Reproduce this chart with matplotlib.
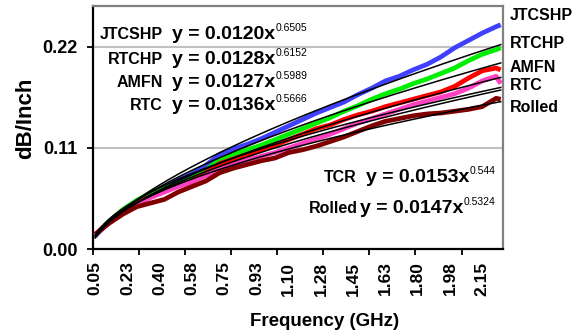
import numpy as np
import matplotlib
matplotlib.use("Agg")
import matplotlib.pyplot as plt

plt.rcParams['font.family'] = ['Liberation Sans', 'DejaVu Sans']

W, H, DPI = 574, 336, 100

# Sample number of each plotted point (89 samples, 0.05-2.25 GHz, 25 MHz apart)
cats = [1, 4, 7, 10, 13, 16, 19, 22, 25, 28, 31, 34, 37, 40, 43, 46, 49, 52,
        55, 58, 61, 64, 67, 70, 73, 76, 79, 82, 85, 88, 89]
n_samples = 89

# Measured loss (dB/inch)
jtcshp = [0.014, 0.030, 0.042, 0.051, 0.058, 0.066, 0.075, 0.082, 0.091, 0.103,
          0.109, 0.114, 0.120, 0.127, 0.134, 0.141, 0.148, 0.154, 0.160, 0.168,
          0.175, 0.183, 0.188, 0.195, 0.201, 0.209, 0.219, 0.227, 0.235, 0.242,
          0.244]
rtchp = [0.015, 0.030, 0.043, 0.053, 0.061, 0.066, 0.071, 0.077, 0.086, 0.097,
         0.103, 0.108, 0.113, 0.119, 0.125, 0.131, 0.137, 0.143, 0.150, 0.156,
         0.163, 0.169, 0.174, 0.180, 0.185, 0.191, 0.197, 0.205, 0.212, 0.217,
         0.219]
amfn = [0.016, 0.029, 0.041, 0.050, 0.057, 0.063, 0.069, 0.074, 0.083, 0.093,
        0.098, 0.103, 0.108, 0.113, 0.119, 0.125, 0.131, 0.135, 0.141, 0.146,
        0.150, 0.155, 0.159, 0.163, 0.167, 0.171, 0.177, 0.186, 0.194, 0.197,
        0.195]
rtc = [0.015, 0.029, 0.040, 0.049, 0.056, 0.062, 0.068, 0.073, 0.080, 0.087,
       0.092, 0.097, 0.101, 0.105, 0.110, 0.115, 0.120, 0.125, 0.131, 0.137,
       0.142, 0.147, 0.152, 0.157, 0.161, 0.165, 0.169, 0.175, 0.183, 0.188,
       0.180]
rolled = [0.016, 0.028, 0.038, 0.046, 0.050, 0.054, 0.062, 0.068, 0.074, 0.083,
          0.088, 0.092, 0.096, 0.099, 0.105, 0.108, 0.112, 0.117, 0.122, 0.128,
          0.134, 0.139, 0.142, 0.145, 0.147, 0.148, 0.150, 0.152, 0.155, 0.164,
          0.163]

series_names = ["JTCSHP", "RTCHP", "AMFN", "RTC", "Rolled"]
series_values = [jtcshp, rtchp, amfn, rtc, rolled]
series_colors = ["#4040ff", "#00ee00", "#ff0000", "#ff40c0", "#800000"]

# Power-law trendlines y = a * x^b (x = sample number)
fit_names = ["JTCSHP", "RTCHP", "AMFN", "RTC", "TCR", "Rolled"]
fit_coef = [0.0120, 0.0128, 0.0127, 0.0136, 0.0153, 0.0147]
fit_exp = [0.6505, 0.6152, 0.5989, 0.5666, 0.544, 0.5324]

xtick_labels = ["0.05", "0.23", "0.40", "0.58", "0.75", "0.93", "1.10",
                "1.28", "1.45", "1.63", "1.80", "1.98", "2.15"]
xtick_cats = [1, 8, 15, 22, 29, 36, 43, 50, 57, 64, 71, 78, 85]
ytick_vals = [0.00, 0.11, 0.22]
ytick_labels = ["0.00", "0.11", "0.22"]


def fx(px):
    return px / W


def fy(py):
    return 1 - py / H


fig = plt.figure(figsize=(W / DPI, H / DPI), dpi=DPI)
ax = fig.add_axes([fx(93), fy(249), (503 - 93) / W, (249 - 6) / H])

for vals, col in zip(series_values, series_colors):
    ax.plot(cats, vals, color=col, lw=3.4, solid_joinstyle='round',
            solid_capstyle='butt', zorder=3)

xf = np.linspace(1, n_samples, 300)
for a, b in zip(fit_coef, fit_exp):
    ax.plot(xf, a * xf ** b, color='black', lw=1.1, zorder=4)

ax.set_xlim(0.5, n_samples + 0.5)
ax.set_ylim(0, 0.2645)

ax.set_yticks(ytick_vals)
ax.set_yticklabels(ytick_labels, fontsize=13, fontweight='bold')
ax.yaxis.grid(True, color='#c0c0c0', lw=1.5)
ax.set_axisbelow(True)
ax.tick_params(axis='y', length=4, width=1.3, pad=7, direction='out')

ax.set_xticks(xtick_cats)
ax.set_xticklabels(xtick_labels, rotation=90, fontsize=12.5, fontweight='bold')
ax.tick_params(axis='x', which='major', length=0, pad=9)
ax.set_xticks(np.arange(0.5, n_samples, 10), minor=True)
ax.tick_params(axis='x', which='minor', length=4, width=1.3, direction='out')

for side in ('left', 'bottom'):
    ax.spines[side].set_color('black')
    ax.spines[side].set_linewidth(1.6)
for side in ('top', 'right'):
    ax.spines[side].set_color('#808080')
    ax.spines[side].set_linewidth(1.6)

fig.text(fx(26), fy(118), "dB/Inch", rotation=90, ha='center', va='center',
         fontsize=16, fontweight='bold')
fig.text(fx(325), fy(322), "Frequency (GHz)", ha='center', va='center',
         fontsize=13.5, fontweight='bold')

# Trendline equations
renderer = fig.canvas.get_renderer()
eq_layout = {
    "JTCSHP": (163, 172, 39),
    "RTCHP": (163, 172, 64),
    "AMFN": (163, 172, 87),
    "RTC": (163, 172, 110),
    "TCR": (357, 366, 182),
    "Rolled": (358, 360, 213),
}
for name, a, b in zip(fit_names, fit_coef, fit_exp):
    xn, xe, yb = eq_layout[name]
    fig.text(fx(xn), fy(yb), name, ha='right', va='baseline',
             fontsize=11.5, fontweight='bold')
    t = fig.text(fx(xe), fy(yb), f"y = {a:.4f}x", ha='left', va='baseline',
                 fontsize=14, fontweight='bold')
    bb = t.get_window_extent(renderer)
    fig.text(bb.x1 / W, fy(yb - 8), str(b), ha='left', va='baseline',
             fontsize=7.5)

# Series names at the right end of the curves
label_y = {"JTCSHP": 16, "RTCHP": 44, "AMFN": 68, "RTC": 85, "Rolled": 108}
for name in series_names:
    fig.text(fx(510), fy(label_y[name]), name, ha='left', va='center',
             fontsize=11.5, fontweight='bold')

fig.savefig("out.png", dpi=DPI)
